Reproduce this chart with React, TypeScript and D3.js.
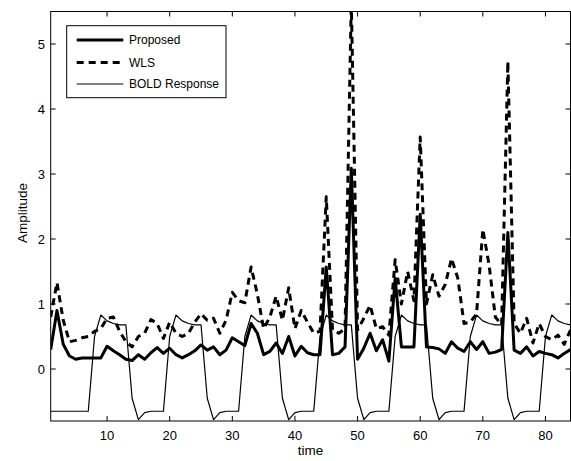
import React from "react";
import * as d3 from "d3";

const proposed = [
  0.30, 0.90, 0.38, 0.20, 0.15, 0.17, 0.17, 0.17, 0.17, 0.35,
  0.28, 0.22, 0.15, 0.13, 0.22, 0.15, 0.25, 0.33, 0.24, 0.32,
  0.22, 0.17, 0.22, 0.28, 0.37, 0.29, 0.34, 0.22, 0.29, 0.48,
  0.42, 0.36, 0.70, 0.55, 0.22, 0.27, 0.40, 0.24, 0.50, 0.20,
  0.35, 0.25, 0.22, 0.22, 1.57, 0.22, 0.24, 0.34, 3.09, 0.15,
  0.32, 0.55, 0.28, 0.45, 0.12, 1.40, 0.34, 0.34, 0.34, 2.38,
  0.34, 0.33, 0.31, 0.24, 0.42, 0.32, 0.27, 0.42, 0.30, 0.42,
  0.24, 0.26, 0.30, 2.10, 0.29, 0.24, 0.34, 0.20, 0.27, 0.24,
  0.22, 0.17, 0.24, 0.30,
];

const wls = [
  0.80, 1.33, 0.75, 0.42, 0.44, 0.48, 0.50, 0.58, 0.62, 0.78,
  0.80, 0.58, 0.42, 0.34, 0.50, 0.55, 0.76, 0.70, 0.47, 0.72,
  0.55, 0.50, 0.55, 0.72, 0.85, 0.75, 0.78, 0.55, 0.75, 1.18,
  1.05, 1.02, 1.57, 1.15, 0.62, 0.80, 1.12, 0.75, 1.25, 0.62,
  0.90, 0.72, 0.55, 0.58, 2.65, 0.60, 0.55, 0.62, 5.65, 0.60,
  0.78, 0.98, 0.62, 0.65, 0.52, 1.68, 1.00, 1.50, 1.05, 3.57,
  1.00, 1.45, 1.12, 1.30, 1.70, 1.40, 0.70, 0.72, 0.85, 2.15,
  1.60, 0.80, 0.68, 4.73, 0.70, 0.55, 0.78, 0.40, 0.70, 0.50,
  0.45, 0.52, 0.38, 0.60,
];

const bold = [
  -0.65, -0.65, -0.65, -0.65, -0.65, -0.65, -0.65,
  0.50, 0.83, 0.74, 0.70, 0.68, 0.68, -0.45, -0.78, -0.67, -0.65, -0.65, -0.65,
  0.50, 0.83, 0.74, 0.70, 0.68, 0.68, -0.45, -0.78, -0.67, -0.65, -0.65, -0.65,
  0.50, 0.83, 0.74, 0.70, 0.68, 0.68, -0.45, -0.78, -0.67, -0.65, -0.65, -0.65,
  0.50, 0.83, 0.74, 0.70, 0.68, 0.68, -0.45, -0.78, -0.67, -0.65, -0.65, -0.65,
  0.50, 0.83, 0.74, 0.70, 0.68, 0.68, -0.45, -0.78, -0.67, -0.65, -0.65, -0.65,
  0.50, 0.83, 0.74, 0.70, 0.68, 0.68, -0.45, -0.78, -0.67, -0.65, -0.65, -0.65,
  0.50, 0.83, 0.74, 0.70, 0.68,
];

const xTicks = [10, 20, 30, 40, 50, 60, 70, 80];
const yTicks = [0, 1, 2, 3, 4, 5];
const legendLabels = ["Proposed", "WLS", "BOLD Response"];

const W = 571;
const H = 461;
const M = { left: 50.7, right: 570.5, top: 11.5, bottom: 421 };
const FONT = "'Liberation Sans', Arial, Helvetica, sans-serif";

export default function App() {
  const x = d3.scaleLinear().domain([1, 84]).range([M.left, M.right]);
  const y = d3.scaleLinear().domain([-0.8, 5.5]).range([M.bottom, M.top]);
  const line = d3
    .line<number>()
    .x((_, i) => x(i + 1))
    .y((d) => y(d));

  const tick = 5;
  const series = [
    { data: proposed, w: 3, dash: undefined as string | undefined },
    { data: wls, w: 3, dash: "7,5" },
    { data: bold, w: 1.2, dash: undefined as string | undefined },
  ];

  const lg = { x0: 66.7, y0: 25.7, x1: 226, y1: 97.7 };
  const rowsY = [40, 62.5, 84];

  return (
    <div style={{ position: "absolute", left: 0, top: 0 }}>
      <svg width={W} height={H} style={{ display: "block", background: "#fff" }}>
        <defs>
          <clipPath id="plotclip">
            <rect x={M.left} y={M.top} width={M.right - M.left} height={M.bottom - M.top} />
          </clipPath>
        </defs>
        <rect x={0} y={0} width={W} height={H} fill="#fff" />
        <g clipPath="url(#plotclip)">
          {series
            .slice()
            .reverse()
            .map((s, k) => (
              <path
                key={k}
                d={line(s.data) || ""}
                fill="none"
                stroke="#000"
                strokeWidth={s.w}
                strokeDasharray={s.dash}
                strokeLinejoin="round"
              />
            ))}
        </g>
        <rect
          x={M.left}
          y={M.top}
          width={M.right - M.left}
          height={M.bottom - M.top}
          fill="none"
          stroke="#000"
          strokeWidth={1}
        />
        {xTicks.map((t) => (
          <g key={"x" + t}>
            <line x1={x(t)} x2={x(t)} y1={M.bottom} y2={M.bottom - tick} stroke="#000" />
            <line x1={x(t)} x2={x(t)} y1={M.top} y2={M.top + tick} stroke="#000" />
            <text
              x={x(t)}
              y={440}
              textAnchor="middle"
              fontFamily={FONT}
              fontSize={13}
              fill="#000"
            >
              {t}
            </text>
          </g>
        ))}
        {yTicks.map((t) => (
          <g key={"y" + t}>
            <line x1={M.left} x2={M.left + tick} y1={y(t)} y2={y(t)} stroke="#000" />
            <line x1={M.right} x2={M.right - tick} y1={y(t)} y2={y(t)} stroke="#000" />
            <text
              x={45}
              y={y(t) + 4.7}
              textAnchor="end"
              fontFamily={FONT}
              fontSize={13}
              fill="#000"
            >
              {t}
            </text>
          </g>
        ))}
        <text
          x={(M.left + M.right) / 2}
          y={455}
          textAnchor="middle"
          fontFamily={FONT}
          fontSize={13.5}
          fill="#000"
        >
          time
        </text>
        <text
          transform={`translate(27,${213}) rotate(-90)`}
          textAnchor="middle"
          fontFamily={FONT}
          fontSize={13.5}
          fill="#000"
        >
          Amplitude
        </text>
        <rect
          x={lg.x0}
          y={lg.y0}
          width={lg.x1 - lg.x0}
          height={lg.y1 - lg.y0}
          fill="#fff"
          stroke="#000"
          strokeWidth={1}
        />
        {legendLabels.map((lab, i) => (
          <g key={lab}>
            <line
              x1={76.7}
              x2={123.3}
              y1={rowsY[i]}
              y2={rowsY[i]}
              stroke="#000"
              strokeWidth={series[i].w}
              strokeDasharray={series[i].dash}
            />
            <text
              x={129}
              y={rowsY[i] + 4.4}
              fontFamily={FONT}
              fontSize={12}
              fill="#000"
            >
              {lab}
            </text>
          </g>
        ))}
      </svg>
    </div>
  );
}
